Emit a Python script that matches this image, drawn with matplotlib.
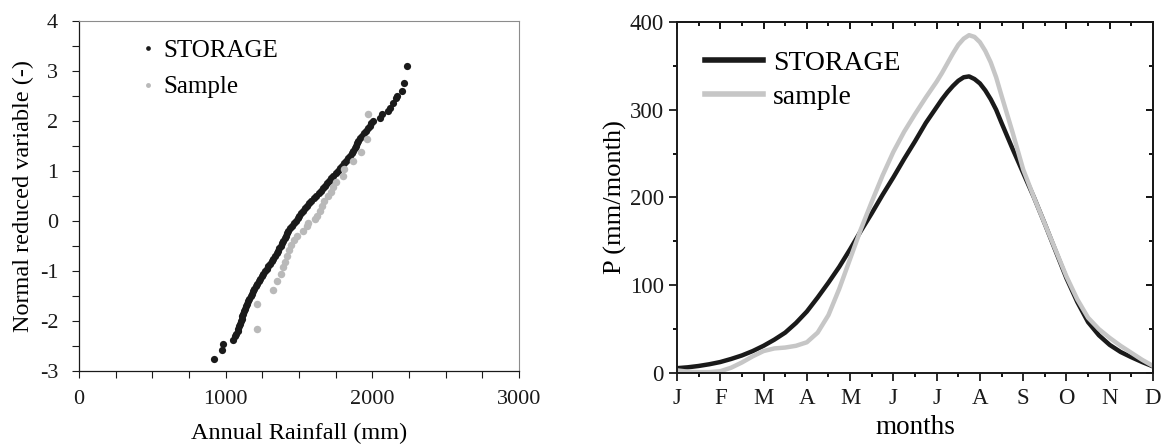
import numpy as np
import matplotlib
matplotlib.use('Agg')
import matplotlib.pyplot as plt
from matplotlib.ticker import MultipleLocator

plt.rcParams['font.family'] = ['Liberation Serif', 'DejaVu Serif']
plt.rcParams['axes.unicode_minus'] = False

# --- left panel: normal probability plot of annual rainfall ---
storage_mm = [919, 976, 983, 1048,
              1064, 1073, 1081, 1087, 1092, 1098, 1103, 1108, 1113, 1118,
              1124, 1131, 1138, 1146, 1155, 1162, 1170, 1178, 1186, 1196,
              1206, 1216, 1227, 1237, 1247, 1257, 1267, 1279, 1291, 1303,
              1315, 1326, 1337, 1348, 1358, 1367, 1376, 1385, 1394, 1402,
              1410, 1418, 1427, 1438, 1450, 1463, 1477, 1490, 1503, 1516,
              1530, 1543, 1557, 1571, 1585, 1601, 1617, 1633, 1649, 1662,
              1676, 1690, 1704, 1719, 1734, 1749, 1764, 1779, 1794, 1808,
              1823, 1835, 1847, 1859, 1871, 1879, 1886, 1894, 1902, 1915,
              1928, 1941, 1955, 1968, 1981, 1994, 2007,
              2050, 2067, 2110, 2122, 2141, 2158, 2165, 2205, 2217, 2236]
storage_z = [-2.76, -2.58, -2.46, -2.37,
             -2.30, -2.25, -2.20, -2.15, -2.10, -2.05, -2.00, -1.95, -1.90, -1.85,
             -1.80, -1.75, -1.70, -1.65, -1.60, -1.55, -1.50, -1.45, -1.40, -1.35,
             -1.30, -1.25, -1.20, -1.15, -1.10, -1.05, -1.00, -0.95, -0.90, -0.85,
             -0.80, -0.75, -0.70, -0.65, -0.60, -0.55, -0.50, -0.45, -0.40, -0.35,
             -0.30, -0.25, -0.20, -0.15, -0.10, -0.05, 0.00, 0.05, 0.10, 0.15,
             0.20, 0.25, 0.30, 0.35, 0.40, 0.45, 0.50, 0.55, 0.60, 0.65,
             0.70, 0.75, 0.80, 0.85, 0.90, 0.95, 1.00, 1.05, 1.10, 1.15,
             1.20, 1.25, 1.30, 1.35, 1.40, 1.45, 1.50, 1.55, 1.60, 1.65,
             1.70, 1.75, 1.80, 1.85, 1.90, 1.95, 2.00,
             2.05, 2.13, 2.19, 2.25, 2.35, 2.45, 2.49, 2.59, 2.75, 3.10]

sample_mm = [1215, 1215, 1322, 1351, 1375, 1394, 1406, 1418, 1430, 1446,
             1468, 1489, 1530, 1554, 1563, 1609, 1625, 1644, 1656, 1673,
             1697, 1716, 1730, 1752, 1799, 1807, 1866, 1926, 1967, 1971]
sample_z = [-2.15, -1.65, -1.38, -1.20, -1.05, -0.91, -0.81, -0.70, -0.59, -0.49,
            -0.38, -0.30, -0.21, -0.11, -0.05, 0.03, 0.10, 0.19, 0.29, 0.39,
            0.49, 0.57, 0.67, 0.77, 0.90, 1.03, 1.19, 1.37, 1.63, 2.13]

# --- right panel: mean monthly rainfall regime (read every quarter month,
#     every eighth of a month around the peak) ---
month_pos = [0.00, 0.25, 0.50, 0.75, 1.00, 1.25, 1.50, 1.75, 2.00, 2.25, 2.50,
             2.75, 3.00, 3.25, 3.50, 3.75, 4.00, 4.25, 4.50, 4.75, 5.00, 5.25,
             5.50, 5.75, 6.00, 6.125, 6.25, 6.375, 6.50, 6.625, 6.75, 6.875,
             7.00, 7.125, 7.25, 7.375, 7.50, 7.75, 8.00,
             8.25, 8.50, 8.75, 9.00, 9.25, 9.50, 9.75, 10.00, 10.25, 10.50,
             10.75, 11.00]
p_storage = [5.5, 6.5, 8, 10, 12.5, 16, 20, 25, 31, 38, 46,
             57, 70, 86, 103, 121, 141, 162, 182, 203, 223, 244,
             264, 285, 303, 312, 320, 327, 333, 337, 338, 335,
             330, 322, 312, 300, 285, 256, 228,
             200, 170, 139, 108, 81, 58, 43, 32, 24, 18,
             12.5, 7.5]
p_sample = [3, 1.5, 1, 1, 2, 6, 12, 19, 25, 28, 29,
            31, 35, 46, 66, 96, 130, 164, 195, 225, 252, 275,
            295, 314, 332, 342, 353, 364, 374, 381, 385, 383,
            377, 367, 354, 337, 316, 275, 232,
            200, 170, 140, 110, 84, 63, 50, 40, 31, 23,
            15, 8]
month_labels = ['J', 'F', 'M', 'A', 'M', 'J', 'J', 'A', 'S', 'O', 'N', 'D']

BLACK = '#1a1a1a'
GREY_PT = '#b9b9b9'
GREY_LN = '#c6c6c6'

fig = plt.figure(figsize=(11.71, 4.46), dpi=100)

# left panel
ax1 = fig.add_axes([79 / 1171, 75 / 446, 440 / 1171, 350 / 446])
ax1.plot(storage_mm, storage_z, 'o', color=BLACK, ms=5.2, mew=0, label='STORAGE')
ax1.plot(sample_mm, sample_z, 'o', color=GREY_PT, ms=5.4, mew=0, label='Sample')
ax1.set_xlim(0, 3000)
ax1.set_ylim(-3, 4)
ax1.xaxis.set_major_locator(MultipleLocator(1000))
ax1.xaxis.set_minor_locator(MultipleLocator(250))
ax1.yaxis.set_major_locator(MultipleLocator(1))
ax1.yaxis.set_minor_locator(MultipleLocator(0.5))
ax1.tick_params(which='both', direction='out', length=5, width=0.8,
                labelsize=16, colors=BLACK)
ax1.tick_params(axis='x', pad=9)
ax1.tick_params(axis='y', pad=10)
for side in ['top', 'right']:
    ax1.spines[side].set_color('#8c8c8c')
    ax1.spines[side].set_linewidth(0.8)
for side in ['left', 'bottom']:
    ax1.spines[side].set_color(BLACK)
    ax1.spines[side].set_linewidth(0.9)
ax1.set_xlabel('Annual Rainfall (mm)', fontsize=17.5, labelpad=10)
ax1.set_ylabel('Normal reduced variable (-)', fontsize=17.5, labelpad=4)
ax1.legend(loc='upper left', bbox_to_anchor=(0.12, 0.975), frameon=False,
           fontsize=18, markerscale=0.65, handlelength=0.5, handletextpad=0.35,
           labelspacing=0.55, borderaxespad=0)

# right panel
ax2 = fig.add_axes([677 / 1171, 73 / 446, 476 / 1171, 351 / 446])
ax2.plot(month_pos, p_storage, color=BLACK, lw=3.2, label='STORAGE',
         solid_joinstyle='round')
ax2.plot(month_pos, p_sample, color=GREY_LN, lw=3.2, label='sample',
         solid_joinstyle='round')
ax2.set_xlim(0, 11)
ax2.set_ylim(0, 400)
ax2.set_xticks(range(12))
ax2.set_xticklabels(month_labels)
ax2.xaxis.set_minor_locator(MultipleLocator(0.5))
ax2.yaxis.set_major_locator(MultipleLocator(100))
ax2.yaxis.set_minor_locator(MultipleLocator(50))
ax2.tick_params(which='major', direction='out', length=6, width=1.3,
                labelsize=16.5, colors=BLACK)
ax2.tick_params(which='minor', direction='out', length=3, width=1.3)
ax2.tick_params(axis='x', pad=5)
for side in ax2.spines:
    ax2.spines[side].set_linewidth(1.4)
    ax2.spines[side].set_color(BLACK)

# inward ticks on top and right
sec_x = ax2.secondary_xaxis('top')
sec_x.set_xticks(range(12))
sec_x.xaxis.set_minor_locator(MultipleLocator(0.5))
sec_x.tick_params(which='major', direction='in', length=5, width=1.3, labeltop=False)
sec_x.tick_params(which='minor', direction='in', length=3, width=1.3)
sec_x.spines['top'].set_linewidth(1.4)
sec_y = ax2.secondary_yaxis('right')
sec_y.yaxis.set_major_locator(MultipleLocator(100))
sec_y.yaxis.set_minor_locator(MultipleLocator(50))
sec_y.tick_params(which='major', direction='in', length=5, width=1.3, labelright=False)
sec_y.tick_params(which='minor', direction='in', length=3, width=1.3)
sec_y.spines['right'].set_linewidth(1.4)

ax2.set_xlabel('months', fontsize=19.5, labelpad=4)
ax2.set_ylabel('P (mm/month)', fontsize=19, labelpad=2)
leg = ax2.legend(loc='upper left', bbox_to_anchor=(0.035, 0.95), frameon=False,
                 fontsize=20, handlelength=2.1, handletextpad=0.35,
                 labelspacing=0.3, borderaxespad=0)
for line in leg.get_lines():
    line.set_linewidth(4.0)

fig.savefig('out.png', dpi=100)
